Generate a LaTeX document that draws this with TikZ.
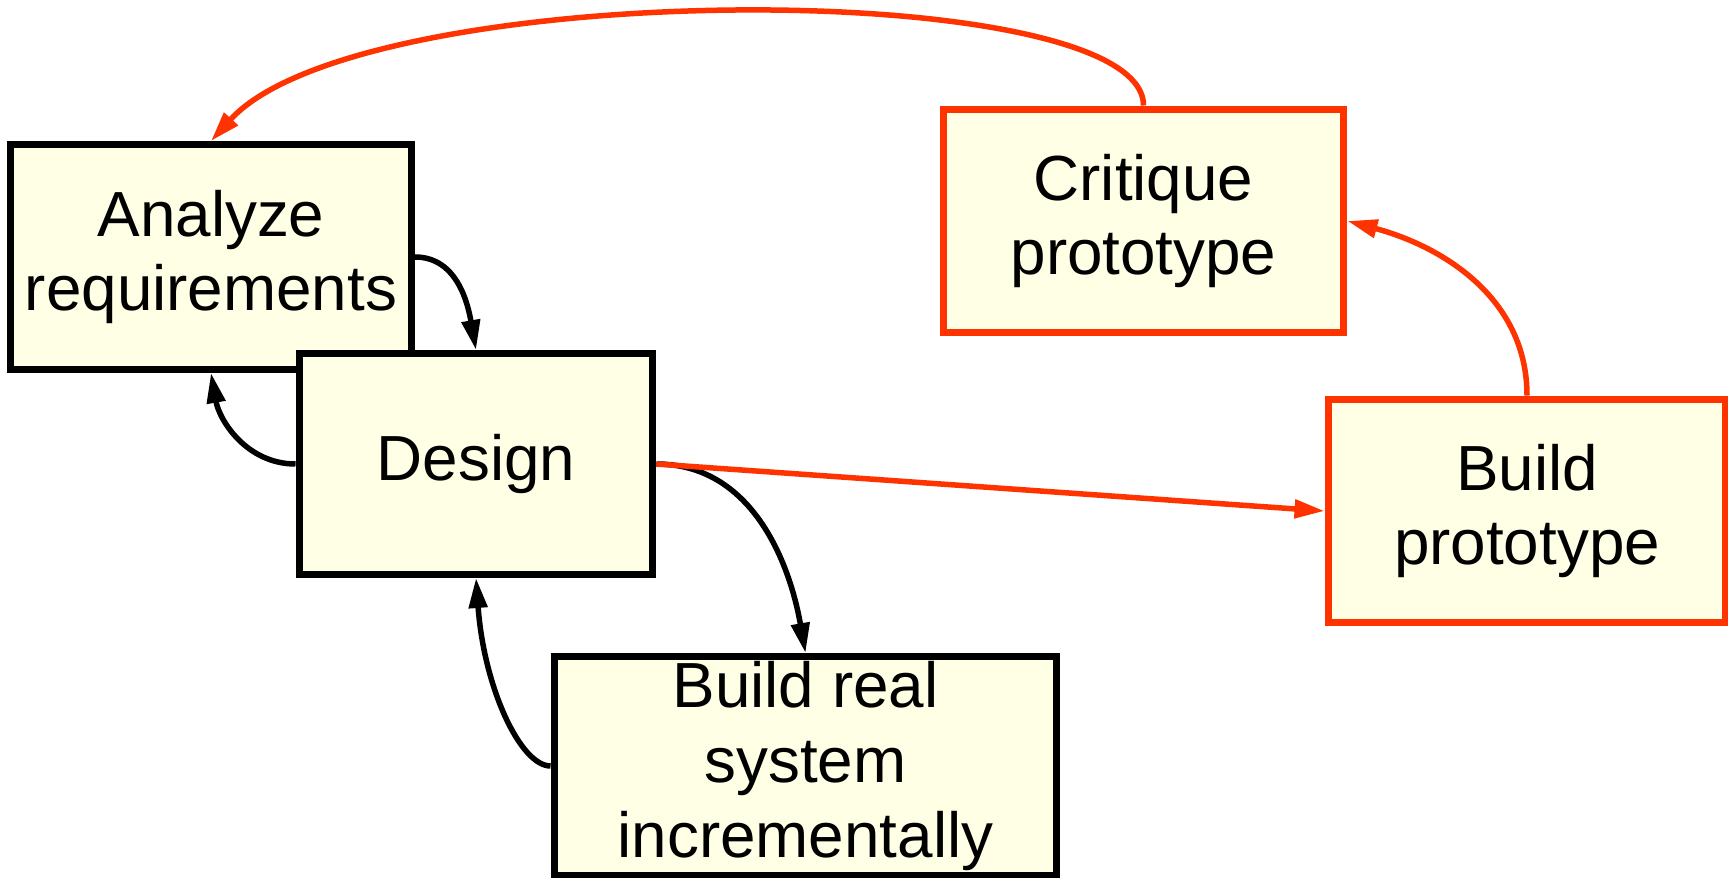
\documentclass[tikz,border=0pt]{standalone}
\usepackage{fontspec}
\setmainfont{Liberation Sans}
\usetikzlibrary{arrows.meta}
\definecolor{protored}{HTML}{FF3300}
\definecolor{boxfill}{HTML}{FFFFE5}

\begin{document}
\begin{tikzpicture}[
			x=0.02cm, y=-0.02cm,
			>={Triangle[length=0.6cm,width=0.36cm]},
			stage/.style={draw, line width=0.14cm, fill=boxfill, align=center, inner sep=0pt, font=\fontsize{36.3}{42.5}\selectfont},
			proto/.style={stage, draw=protored},
			flow/.style={line width=0.11cm, ->},
			protoflow/.style={flow, draw=protored}
			]
			
			\useasboundingbox (0,0) rectangle (1728,878);
			
			% main path
			\node[stage, minimum width=8.02cm, minimum height=4.5cm] (req) at (211,257) {Analyze\\requirements};
			\node[stage, minimum width=7.08cm, minimum height=4.42cm] (des) at (476,464) {Design};
			\node[stage, minimum width=10.06cm, minimum height=4.38cm] (real) at (805.5,766) {Build real\\system\\incrementally};
			
			% prototype loop
			\node[proto, minimum width=8.02cm, minimum height=4.48cm] (crit) at (1143.5,221) {Critique\\prototype};
			\node[proto, minimum width=7.96cm, minimum height=4.48cm] (bproto) at (1527,511) {Build\\prototype};
			
			\draw[flow] (req.east) to[out=0, in=100] (des.north);
			\draw[flow] (des.west) to[out=180, in=-80] (req.south);
			\draw[flow] (des.east) to[out=0, in=100] (real.north);
			\draw[flow] (real.west) .. controls +(-30,0) and +(8,110) .. (des.south);
			
			\draw[protoflow] (des.east) -- (bproto.west);
			\draw[protoflow] (bproto.north) to[out=90, in=-15] (crit.east);
			\draw[protoflow] (crit.north) .. controls +(0,-130) and +(150,-165) .. (req.north);
		\end{tikzpicture}
\end{document}
